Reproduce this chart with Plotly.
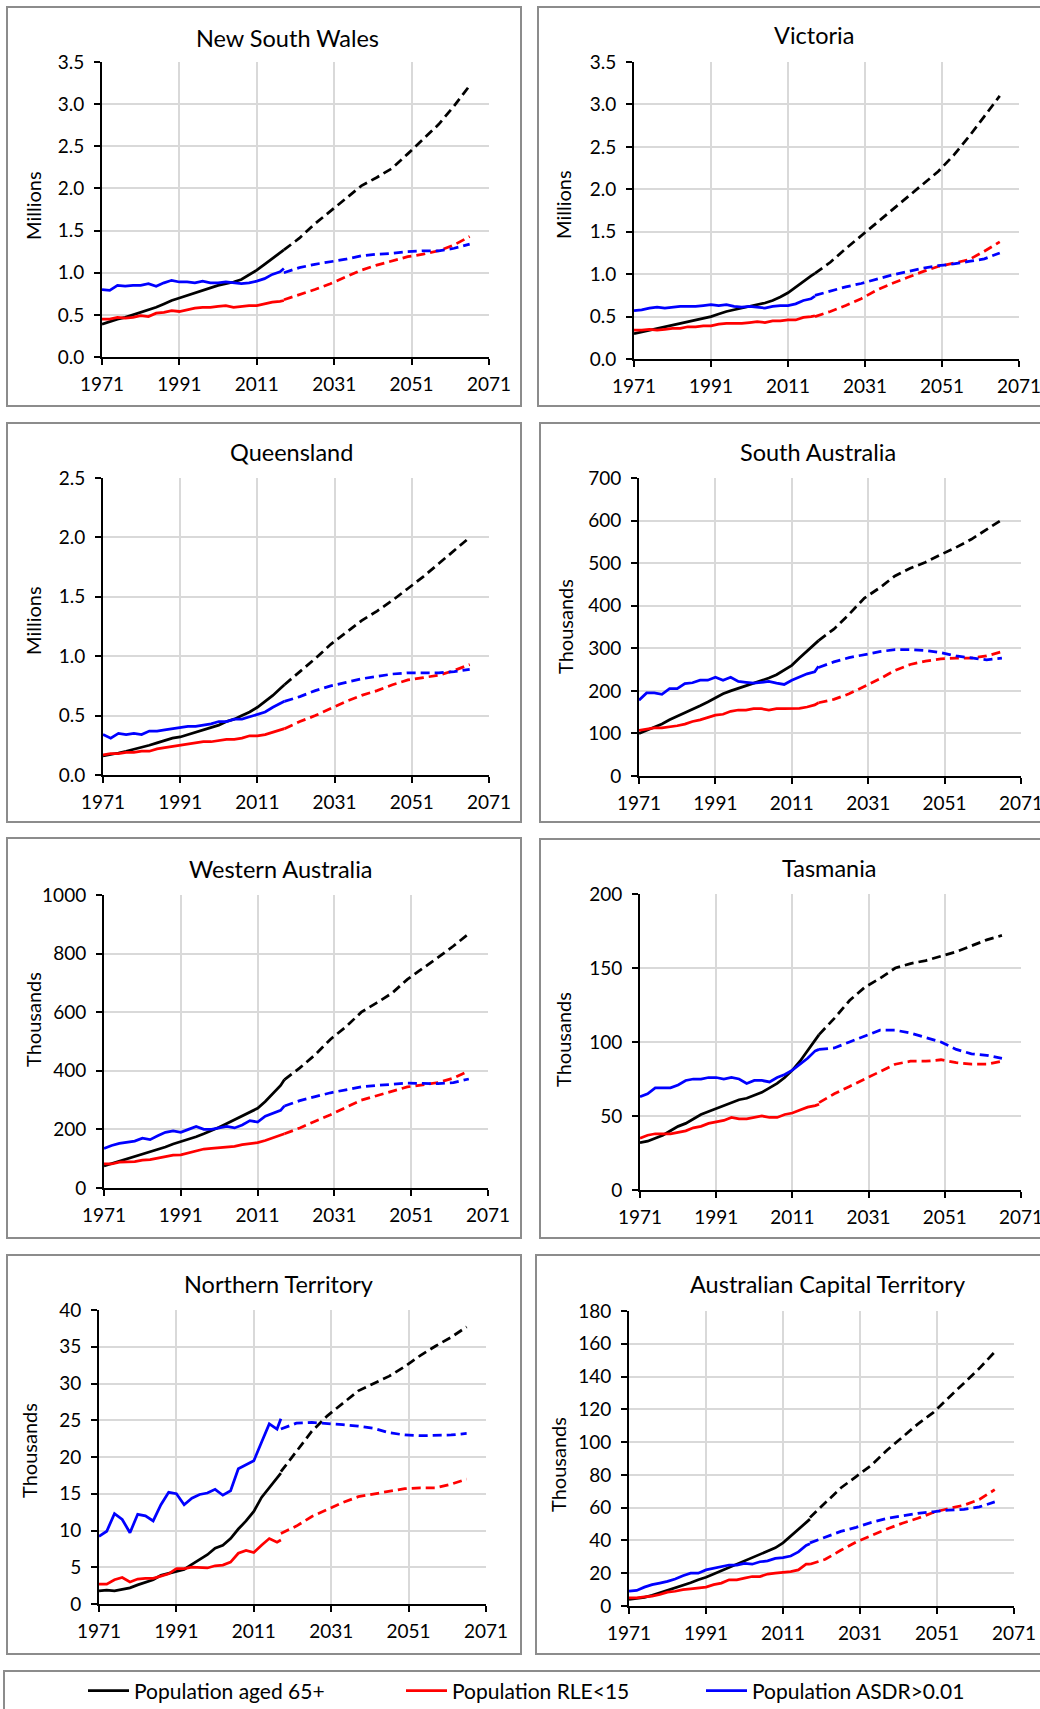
import plotly.graph_objects as go

# ---------------- data ----------------
HIST_YEARS = [1971, 1973, 1975, 1977, 1979, 1981, 1983, 1985, 1987, 1989, 1991, 1993,
              1995, 1997, 1999, 2001, 2003, 2005, 2007, 2009, 2011, 2013, 2015, 2017, 2018]
PROJ_YEARS = [2018, 2022, 2026, 2030, 2034, 2038, 2042, 2046, 2050, 2054, 2058, 2062, 2066]

SERIES_NAMES = ["Population aged 65+", "Population RLE<15", "Population ASDR>0.01"]
PANEL_TITLES = ["New South Wales", "Victoria", "Queensland", "South Australia",
                "Western Australia", "Tasmania", "Northern Territory", "Australian Capital Territory"]
UNIT_LABELS = ["Millions", "Millions", "Millions", "Thousands",
               "Thousands", "Thousands", "Thousands", "Thousands"]
X_TICKS = [1971, 1991, 2011, 2031, 2051, 2071]

# New South Wales (millions)
NSW_65_H = [0.39, 0.42, 0.45, 0.47, 0.50, 0.53, 0.56, 0.59, 0.63, 0.67, 0.70, 0.73, 0.76, 0.79, 0.82,
            0.85, 0.87, 0.89, 0.92, 0.97, 1.03, 1.10, 1.17, 1.23, 1.27]
NSW_65_P = [1.27, 1.41, 1.58, 1.73, 1.87, 2.03, 2.13, 2.24, 2.41, 2.58, 2.76, 2.98, 3.22]
NSW_RLE_H = [0.45, 0.45, 0.47, 0.46, 0.47, 0.49, 0.48, 0.52, 0.53, 0.55, 0.54, 0.56, 0.58, 0.59, 0.59,
             0.60, 0.61, 0.59, 0.60, 0.61, 0.61, 0.63, 0.65, 0.66, 0.67]
NSW_RLE_P = [0.68, 0.74, 0.80, 0.87, 0.95, 1.03, 1.09, 1.14, 1.19, 1.22, 1.26, 1.33, 1.43]
NSW_ASDR_H = [0.80, 0.79, 0.85, 0.84, 0.85, 0.85, 0.87, 0.84, 0.88, 0.91, 0.89, 0.89, 0.88, 0.90, 0.88,
              0.88, 0.89, 0.88, 0.87, 0.88, 0.90, 0.93, 0.98, 1.01, 1.05]
NSW_ASDR_P = [1.00, 1.06, 1.10, 1.13, 1.16, 1.20, 1.22, 1.23, 1.25, 1.26, 1.26, 1.29, 1.34]

# Victoria (millions)
VIC_65_H = [0.30, 0.32, 0.34, 0.36, 0.38, 0.40, 0.42, 0.44, 0.46, 0.48, 0.50, 0.53, 0.56, 0.58, 0.60,
            0.62, 0.64, 0.66, 0.69, 0.73, 0.78, 0.85, 0.92, 0.98, 1.01]
VIC_65_P = [1.01, 1.14, 1.30, 1.45, 1.60, 1.75, 1.90, 2.05, 2.21, 2.40, 2.62, 2.86, 3.10]
VIC_RLE_H = [0.34, 0.34, 0.35, 0.34, 0.35, 0.36, 0.36, 0.38, 0.38, 0.39, 0.39, 0.41, 0.42, 0.42, 0.42,
             0.43, 0.44, 0.43, 0.45, 0.45, 0.46, 0.46, 0.49, 0.50, 0.51]
VIC_RLE_P = [0.50, 0.56, 0.63, 0.71, 0.81, 0.89, 0.96, 1.03, 1.09, 1.13, 1.17, 1.27, 1.38]
VIC_ASDR_H = [0.57, 0.58, 0.60, 0.61, 0.60, 0.61, 0.62, 0.62, 0.62, 0.63, 0.64, 0.63, 0.64, 0.62, 0.61,
              0.62, 0.61, 0.60, 0.62, 0.63, 0.63, 0.65, 0.69, 0.71, 0.74]
VIC_ASDR_P = [0.75, 0.80, 0.85, 0.89, 0.94, 0.99, 1.03, 1.07, 1.10, 1.12, 1.15, 1.18, 1.25]

# Queensland (millions)
QLD_65_H = [0.16, 0.17, 0.185, 0.20, 0.215, 0.23, 0.25, 0.27, 0.29, 0.31, 0.32, 0.34, 0.36, 0.38, 0.40,
            0.42, 0.45, 0.47, 0.50, 0.53, 0.57, 0.62, 0.67, 0.73, 0.76]
QLD_65_P = [0.76, 0.87, 0.98, 1.10, 1.20, 1.30, 1.38, 1.47, 1.57, 1.67, 1.78, 1.89, 2.00]
QLD_RLE_H = [0.17, 0.18, 0.18, 0.19, 0.19, 0.20, 0.20, 0.22, 0.23, 0.24, 0.25, 0.26, 0.27, 0.28, 0.28,
             0.29, 0.30, 0.30, 0.31, 0.33, 0.33, 0.34, 0.36, 0.38, 0.39]
QLD_RLE_P = [0.39, 0.45, 0.50, 0.56, 0.62, 0.67, 0.71, 0.76, 0.80, 0.82, 0.84, 0.88, 0.93]
QLD_ASDR_H = [0.34, 0.31, 0.35, 0.34, 0.35, 0.34, 0.37, 0.37, 0.38, 0.39, 0.40, 0.41, 0.41, 0.42, 0.43,
              0.45, 0.45, 0.47, 0.47, 0.49, 0.51, 0.53, 0.57, 0.60, 0.62]
QLD_ASDR_P = [0.62, 0.66, 0.71, 0.75, 0.78, 0.81, 0.83, 0.85, 0.86, 0.86, 0.86, 0.87, 0.89]

# South Australia (thousands)
SA_65_H = [100, 107, 114, 122, 132, 140, 148, 156, 165, 174, 183, 193, 200, 206, 211,
           218, 224, 230, 238, 248, 260, 277, 293, 308, 318]
SA_65_P = [318, 345, 380, 418, 442, 470, 488, 502, 520, 537, 556, 578, 602]
SA_RLE_H = [107, 110, 113, 113, 115, 118, 122, 128, 132, 138, 143, 145, 152, 155, 155,
            158, 158, 155, 158, 158, 158, 159, 162, 167, 172]
SA_RLE_P = [172, 180, 193, 210, 228, 248, 262, 270, 275, 277, 277, 282, 292]
SA_ASDR_H = [178, 195, 195, 192, 205, 205, 217, 219, 225, 225, 232, 225, 232, 222, 220,
             218, 220, 222, 218, 215, 225, 232, 240, 245, 258]
SA_ASDR_P = [255, 268, 278, 285, 292, 297, 297, 295, 290, 282, 277, 273, 277]

# Western Australia (thousands)
WA_65_H = [75, 83, 90, 98, 106, 115, 122, 130, 140, 150, 158, 166, 175, 185, 195,
           207, 220, 233, 245, 258, 272, 295, 322, 350, 370]
WA_65_P = [370, 410, 455, 508, 550, 600, 632, 665, 712, 748, 787, 826, 868]
WA_RLE_H = [82, 82, 88, 90, 90, 95, 97, 102, 107, 112, 113, 120, 127, 133, 135,
            137, 140, 142, 148, 152, 155, 162, 172, 182, 185]
WA_RLE_P = [185, 205, 228, 250, 275, 300, 315, 330, 345, 352, 360, 375, 400]
WA_ASDR_H = [135, 145, 152, 155, 160, 170, 165, 178, 190, 195, 190, 200, 210, 200, 200,
             205, 210, 205, 215, 230, 225, 245, 255, 265, 280]
WA_ASDR_P = [280, 298, 312, 325, 335, 345, 350, 355, 358, 357, 356, 360, 372]

# Tasmania (thousands)
TAS_65_H = [32, 33, 35, 37, 40, 43, 45, 48, 51, 53, 55, 57, 59, 61, 62,
            64, 66, 69, 72, 76, 81, 87, 94, 101, 105]
TAS_65_P = [105, 116, 128, 137, 143, 150, 153, 155, 158, 161, 165, 169, 172]
TAS_RLE_H = [35, 37, 38, 38, 38, 39, 40, 42, 43, 45, 46, 47, 49, 48, 48,
             49, 50, 49, 49, 51, 52, 54, 56, 57, 58]
TAS_RLE_P = [59, 65, 70, 75, 80, 85, 87, 87, 88, 86, 85, 85, 87]
TAS_ASDR_H = [63, 65, 69, 69, 69, 71, 74, 75, 75, 76, 76, 75, 76, 75, 72,
              74, 74, 73, 76, 78, 81, 85, 89, 94, 95]
TAS_ASDR_P = [95, 96, 100, 104, 108, 108, 106, 103, 100, 95, 92, 91, 89]

# Northern Territory (thousands)
NT_65_H = [1.8, 1.9, 1.8, 2.0, 2.2, 2.6, 2.9, 3.3, 3.9, 4.2, 4.4, 4.7, 5.4, 6.1, 6.7,
           7.6, 8.0, 8.9, 10.2, 11.3, 12.6, 14.5, 15.8, 17.0, 17.8]
NT_65_P = [18.0, 20.8, 23.5, 25.6, 27.3, 29.0, 30.0, 31.0, 32.3, 33.8, 35.1, 36.3, 37.7]
NT_RLE_H = [2.7, 2.7, 3.3, 3.6, 3.0, 3.4, 3.5, 3.5, 3.8, 4.1, 4.8, 4.8, 5.0, 5.0, 4.9,
            5.2, 5.3, 5.7, 6.9, 7.3, 7.0, 8.0, 8.9, 8.4, 8.7]
NT_RLE_P = [9.6, 10.6, 11.9, 12.9, 13.8, 14.6, 15.0, 15.4, 15.7, 15.8, 15.8, 16.3, 17.0]
NT_ASDR_H = [9.2, 9.9, 12.3, 11.5, 9.7, 12.2, 12.0, 11.3, 13.5, 15.2, 15.0, 13.5, 14.4, 14.9, 15.1,
             15.6, 14.8, 15.4, 18.4, 19.0, 19.5, 22.0, 24.5, 23.8, 25.2]
NT_ASDR_P = [23.8, 24.6, 24.7, 24.6, 24.4, 24.2, 23.9, 23.3, 23.0, 22.9, 22.9, 23.0, 23.2]

# Australian Capital Territory (thousands)
ACT_65_H = [4.0, 4.5, 5.3, 6.5, 8.0, 9.8, 11.0, 12.5, 14.2, 16.0, 17.5, 19.5, 21.5, 23.5, 25.5,
            27.5, 29.5, 31.5, 33.5, 35.5, 38.5, 42.5, 47.0, 51.0, 53.0]
ACT_65_P = [54, 63, 72, 79, 86, 95, 103, 111, 118, 127, 136, 145, 155]
ACT_RLE_H = [5.0, 5.0, 5.5, 6.0, 7.0, 8.5, 9.0, 10.0, 10.5, 11.0, 11.5, 13.0, 14.0, 16.0, 16.0,
             17.0, 18.0, 18.0, 19.5, 20.0, 20.5, 21.0, 22.0, 25.5, 25.5]
ACT_RLE_P = [25.5, 28.5, 34.0, 39.0, 43.0, 47.0, 50.5, 53.5, 57.0, 59.5, 61.5, 65.0, 71.0]
ACT_ASDR_H = [9.0, 9.5, 11.5, 13.0, 14.0, 15.0, 16.5, 18.5, 20.0, 20.0, 22.0, 23.0, 24.0, 25.0, 25.0,
              26.0, 25.5, 27.0, 27.5, 29.0, 29.5, 30.5, 33.0, 37.0, 38.0]
ACT_ASDR_P = [38.5, 42.0, 45.5, 48.0, 51.0, 53.5, 55.0, 56.5, 57.5, 58.5, 59.0, 60.5, 63.5]

Y_MAX = [3.5, 3.5, 2.5, 700, 1000, 200, 40, 180]
Y_STEP = [0.5, 0.5, 0.5, 100, 200, 50, 5, 20]

PANEL_DATA = [
    [(NSW_65_H, NSW_65_P), (NSW_RLE_H, NSW_RLE_P), (NSW_ASDR_H, NSW_ASDR_P)],
    [(VIC_65_H, VIC_65_P), (VIC_RLE_H, VIC_RLE_P), (VIC_ASDR_H, VIC_ASDR_P)],
    [(QLD_65_H, QLD_65_P), (QLD_RLE_H, QLD_RLE_P), (QLD_ASDR_H, QLD_ASDR_P)],
    [(SA_65_H, SA_65_P), (SA_RLE_H, SA_RLE_P), (SA_ASDR_H, SA_ASDR_P)],
    [(WA_65_H, WA_65_P), (WA_RLE_H, WA_RLE_P), (WA_ASDR_H, WA_ASDR_P)],
    [(TAS_65_H, TAS_65_P), (TAS_RLE_H, TAS_RLE_P), (TAS_ASDR_H, TAS_ASDR_P)],
    [(NT_65_H, NT_65_P), (NT_RLE_H, NT_RLE_P), (NT_ASDR_H, NT_ASDR_P)],
    [(ACT_65_H, ACT_65_P), (ACT_RLE_H, ACT_RLE_P), (ACT_ASDR_H, ACT_ASDR_P)],
]

# ---------------- layout / style ----------------
W, H = 1040, 1709
FONT = "Lato, Carlito, 'Open Sans', sans-serif"
TXT = "#000000"
COLORS = ["#000000", "#ff0000", "#0000ff"]
LEGEND_IDS = ["legend", "legend2", "legend3"]

# plot-area pixel boxes: (left, right, top, bottom)
PLOT_BOX = [
    (102, 489, 62, 357), (634, 1019, 62, 359),
    (103, 489, 478, 775), (639, 1021, 478, 776),
    (104, 488, 895, 1188), (640, 1021, 894, 1190),
    (99, 486, 1310, 1604), (629, 1014, 1311, 1606),
]
# panel frame pixel boxes
FRAME_BOX = [
    (7, 521, 7, 406), (538, 1050, 7, 406),
    (7, 521, 423, 822), (540, 1050, 423, 822),
    (7, 521, 838, 1238), (540, 1050, 839, 1238),
    (7, 521, 1255, 1654), (536, 1050, 1255, 1654),
]
TITLE_POS = [(287, 38), (814, 35), (291, 452), (818, 452),
             (281, 869), (829, 868), (278, 1284), (827, 1284)]
YTITLE_POS = [(33, 206), (563, 205), (33, 621), (565, 627),
              (33, 1020), (563, 1040), (29, 1451), (558, 1465)]


def px(x):
    return x / W


def py(y):
    return 1 - y / H


fig = go.Figure()
layout = dict(
    width=W, height=H, margin=dict(l=0, r=0, t=0, b=0, pad=0, autoexpand=False),
    paper_bgcolor="white", plot_bgcolor="white",
    font=dict(family=FONT, size=19, color=TXT),
)
annotations = []
shapes = []

for i in range(8):
    n = "" if i == 0 else str(i + 1)
    xa, ya = "x" + n, "y" + n
    l, r, t, b = PLOT_BOX[i]
    for s in range(3):
        hist, proj = PANEL_DATA[i][s]
        fig.add_trace(go.Scatter(
            x=HIST_YEARS, y=hist, mode="lines", xaxis=xa, yaxis=ya,
            name=SERIES_NAMES[s], line=dict(color=COLORS[s], width=2.75),
            showlegend=(i == 0), legend=LEGEND_IDS[s], hoverinfo="skip"))
        fig.add_trace(go.Scatter(
            x=PROJ_YEARS, y=proj, mode="lines", xaxis=xa, yaxis=ya,
            name=SERIES_NAMES[s], line=dict(color=COLORS[s], width=2.75, dash="9px,5px"),
            showlegend=False, hoverinfo="skip"))
    axis_common = dict(
        showline=True, linecolor="#000000", linewidth=2,
        ticks="outside", ticklen=6, tickwidth=1.5, tickcolor="#000000",
        showgrid=True, gridcolor="#d9d9d9", gridwidth=1.5, zeroline=False,
        tickfont=dict(family=FONT, size=19, color=TXT), fixedrange=True,
        automargin=False, ticklabeloverflow="allow",
    )
    layout["xaxis" + n] = dict(
        axis_common, domain=[px(l), px(r)], range=[1971, 2071],
        tickvals=X_TICKS, anchor=ya, ticklabelstandoff=3)
    fmt = ".1f" if Y_MAX[i] < 10 else "d"
    layout["yaxis" + n] = dict(
        axis_common, domain=[py(b), py(t)], range=[0, Y_MAX[i]],
        dtick=Y_STEP[i], tick0=0, tickformat=fmt, anchor=xa, ticklabelstandoff=6)
    annotations.append(dict(
        text=PANEL_TITLES[i], x=px(TITLE_POS[i][0]), y=py(TITLE_POS[i][1]),
        xref="paper", yref="paper", xanchor="center", yanchor="middle",
        showarrow=False, font=dict(family=FONT, size=23.5, color=TXT)))
    annotations.append(dict(
        text=UNIT_LABELS[i], x=px(YTITLE_POS[i][0]), y=py(YTITLE_POS[i][1]),
        xref="paper", yref="paper", xanchor="center", yanchor="middle", textangle=-90,
        showarrow=False, font=dict(family=FONT, size=20, color=TXT)))
    fl, fr, ft, fb = FRAME_BOX[i]
    shapes.append(dict(type="rect", xref="paper", yref="paper",
                       x0=px(fl), x1=px(fr), y0=py(fb), y1=py(ft),
                       line=dict(color="#8c8c8c", width=2), fillcolor="rgba(0,0,0,0)"))

# legend frame
shapes.append(dict(type="rect", xref="paper", yref="paper",
                   x0=px(4), x1=px(1050), y0=py(1720), y1=py(1671),
                   line=dict(color="#8c8c8c", width=2), fillcolor="rgba(0,0,0,0)"))

LEGEND_X = [83, 401, 701]
for s in range(3):
    layout[LEGEND_IDS[s]] = dict(
        x=px(LEGEND_X[s]), y=py(1691), xanchor="left", yanchor="middle",
        orientation="h", bgcolor="rgba(0,0,0,0)", borderwidth=0, itemwidth=41,
        font=dict(family=FONT, size=21, color=TXT))

layout["annotations"] = annotations
layout["shapes"] = shapes
fig.update_layout(**layout)
fig.write_html("out.html", config={"displayModeBar": False},
               post_script="document.body.style.margin='0';")
